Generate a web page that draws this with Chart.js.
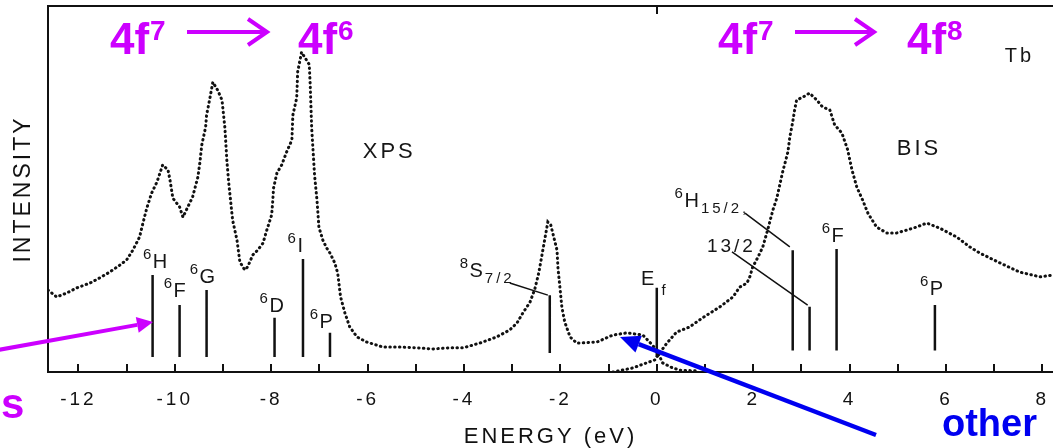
<!DOCTYPE html>
<html><head><meta charset="utf-8">
<script src="https://cdn.jsdelivr.net/npm/chart.js@4.4.1/dist/chart.umd.min.js"></script>
<style>html,body{margin:0;padding:0;background:#fff;overflow:hidden}#wrap{width:1053px;height:448px}</style>
</head><body><div id="wrap"><canvas id="c" width="1053" height="448"></canvas></div>
<script>
// ---------------- data ----------------
const xpsEnergy = [-12.63,-12.45,-12.24,-12.03,-11.76,-11.56,-11.35,-11.14,-11.00,-10.87,-10.73,-10.66,-10.58,-10.48,-10.37,-10.25,-10.14,-10.10,-10.04,-9.90,-9.83,-9.73,-9.63,-9.52,-9.48,-9.44,-9.36,-9.34,-9.27,-9.21,-9.11,-9.02,-8.96,-8.92,-8.88,-8.80,-8.71,-8.65,-8.55,-8.49,-8.38,-8.28,-8.17,-8.09,-7.99,-7.97,-7.95,-7.88,-7.78,-7.68,-7.57,-7.55,-7.47,-7.45,-7.37,-7.21,-7.19,-7.16,-7.10,-7.05,-7.01,-6.93,-6.85,-6.78,-6.68,-6.62,-6.56,-6.47,-6.37,-6.22,-6.02,-5.68,-5.33,-4.98,-4.65,-4.29,-4.02,-3.67,-3.32,-3.05,-2.90,-2.78,-2.63,-2.53,-2.45,-2.39,-2.30,-2.26,-2.20,-2.07,-2.05,-2.01,-1.97,-1.91,-1.80,-1.66,-1.60,-1.24,-0.91,-0.62,-0.29,-0.15,0.00,0.12,0.33,0.48,0.83];
const xpsIntensity = [22.4,20.5,21.6,23.0,24.3,25.7,27.3,29.2,30.6,33.3,36.9,40.7,44.8,48.9,51.9,56.6,55.2,52.5,47.5,45.1,42.3,45.1,47.8,53.3,57.1,62.0,66.9,70.2,74.9,79.2,77.0,74.3,66.7,57.9,51.6,41.5,36.1,30.1,27.9,28.7,32.0,33.3,35.2,38.8,42.9,46.2,50.3,54.4,56.6,60.1,63.4,70.2,74.9,82.0,87.4,84.0,78.4,66.7,53.8,47.0,39.6,36.1,33.9,32.5,29.8,27.0,20.5,16.1,12.3,9.6,8.2,6.8,6.8,6.6,6.3,6.6,6.6,7.9,9.6,11.5,13.4,16.1,19.1,22.7,27.0,31.4,38.0,41.0,40.2,33.3,28.4,23.2,17.8,13.7,9.6,7.9,7.9,8.2,10.1,10.7,10.1,8.2,6.0,2.5,1.1,0.5,0.3];

const bisEnergy = [-0.91,-0.50,-0.21,-0.04,0.06,0.21,0.41,0.68,0.95,1.31,1.58,1.72,1.87,1.93,1.99,2.10,2.20,2.30,2.41,2.49,2.61,2.72,2.76,2.82,2.86,2.90,3.03,3.17,3.32,3.44,3.59,3.69,3.84,3.96,4.05,4.15,4.27,4.38,4.56,4.77,4.98,5.19,5.39,5.60,5.87,6.22,6.49,6.70,7.12,7.53,7.95,8.22];
const bisIntensity = [0.0,1.1,2.5,3.3,5.2,7.9,10.9,12.3,14.8,17.8,20.5,23.2,24.3,26.0,28.7,31.4,34.2,38.8,44.3,47.5,54.6,60.1,64.2,68.3,71.6,74.3,75.1,76.2,74.3,72.4,71.6,67.5,65.3,60.7,55.2,50.5,47.0,43.4,39.6,38.0,38.0,38.8,39.6,40.7,39.3,36.9,34.2,32.5,29.8,27.3,26.0,26.5];

// multiplet / reference bars
const barEnergy = [-10.46,-9.90,-9.34,-7.93,-7.34,-6.78,-2.22,0.00,2.82,3.17,3.73,5.77];
const barBottom = [4.1,4.1,4.1,4.1,4.1,4.1,5.2,4.1,5.9,5.9,5.9,5.9];
const barTop    = [26.5,18.3,22.4,14.8,30.9,10.7,21.0,23.0,33.3,17.8,33.6,18.3];

// leader lines (label -> bar)
const leaderFromE = [-3.05,1.83,1.56];
const leaderFromV = [24.3,43.4,32.8];
const leaderToE   = [-2.26,2.76,3.13];
const leaderToV   = [21.0,34.2,18.3];

// term labels
const labelSup  = ['6','6','6','6','6','6','8','','','6','','6','6','','',''];
const labelMain = ['H','F','G','D','I','P','S','E','','H','13/2','F','P','XPS','BIS','Tb'];
const labelSub  = ['','','','','','','7/2','','f','15/2,','','','','','',''];
const labelE    = [-10.66,-10.23,-9.69,-8.24,-7.66,-7.20,-4.09,-0.33,0.10,0.37,1.04,3.42,5.46,-6.10,4.98,7.22];
const labelV    = [28.4,20.5,24.3,16.4,32.8,12.0,26.0,23.8,22.7,45.1,32.8,35.5,21.0,58.5,59.3,84.7];
const labelSize = [20,20,20,20,20,20,20,20,20,20,19,20,20,22,22,20];

const xMin = -12.63, xMax = 8.22, yMin = 0, yMax = 100;
const FONT = '"Liberation Sans", Arial, Helvetica, sans-serif';

// ---------------- build datasets ----------------
const xpsData = xpsEnergy.map((e,i)=>({x:e, y:xpsIntensity[i]}));
const bisData = bisEnergy.map((e,i)=>({x:e, y:bisIntensity[i]}));
const barData = [];
barEnergy.forEach((e,i)=>{ barData.push({x:e,y:barBottom[i]},{x:e,y:barTop[i]},{x:e,y:null}); });
const leaderData = [];
leaderFromE.forEach((e,i)=>{ leaderData.push({x:e,y:leaderFromV[i]},{x:leaderToE[i],y:leaderToV[i]},{x:leaderToE[i],y:null}); });

const dotted = {borderColor:'#111', borderWidth:3, borderDash:[0.5,4.3], borderCapStyle:'round', pointRadius:0, tension:0, fill:false};

const spacingPlugin = {
  id:'spacing',
  beforeDraw(chart){ chart.ctx.letterSpacing = '3px'; }
};

const labelPlugin = {
  id:'termLabels',
  afterDatasetsDraw(chart){
    const {ctx, scales:{x, y}} = chart;
    ctx.save();
    ctx.fillStyle = '#161616';
    ctx.textAlign = 'left';
    ctx.textBaseline = 'alphabetic';
    ctx.letterSpacing = '3px';
    for (let i=0;i<labelMain.length;i++){
      let px = x.getPixelForValue(labelE[i]);
      const py = y.getPixelForValue(labelV[i]);
      if (labelSup[i]) { ctx.font = '15px '+FONT; ctx.fillText(labelSup[i], px, py-9); px += ctx.measureText(labelSup[i]).width - 1.5; }
      if (labelMain[i]) { ctx.font = labelSize[i]+'px '+FONT; ctx.fillText(labelMain[i], px, py); px += ctx.measureText(labelMain[i]).width - 1; }
      if (labelSub[i]) { ctx.font = '15px '+FONT; ctx.fillText(labelSub[i], px, py+6); }
    }
    ctx.restore();
  }
};

const ticksPlugin = {
  id:'inwardTicks',
  afterDraw(chart){
    const {ctx, chartArea, scales:{x}} = chart;
    ctx.save();
    ctx.strokeStyle = '#111';
    ctx.lineWidth = 2;
    x.ticks.forEach(t=>{
      if (!Number.isInteger(t.value)) return;
      const px = Math.round(x.getPixelForValue(t.value));
      ctx.beginPath(); ctx.moveTo(px, chartArea.bottom); ctx.lineTo(px, chartArea.bottom-8); ctx.stroke();
    });
    const p0 = Math.round(x.getPixelForValue(0));
    ctx.beginPath(); ctx.moveTo(p0, chartArea.top); ctx.lineTo(p0, chartArea.top+8); ctx.stroke();
    ctx.restore();
  }
};

function formula(ctx, x, base, main, sup){
  ctx.font = 'bold 44px '+FONT;
  ctx.fillText(main, x, base);
  const w = ctx.measureText(main).width;
  ctx.font = 'bold 28px '+FONT;
  ctx.fillText(sup, x + w + 1, base - 14);
}
function openArrow(ctx, x1, x2, y){
  ctx.beginPath(); ctx.moveTo(x1, y); ctx.lineTo(x2-2, y); ctx.stroke();
  ctx.beginPath(); ctx.moveTo(x2-19, y-13); ctx.lineTo(x2, y); ctx.lineTo(x2-19, y+13); ctx.stroke();
}
function solidArrow(ctx, x1, y1, x2, y2, headLen, headHalf){
  const a = Math.atan2(y2-y1, x2-x1);
  const bx = x2 - headLen*Math.cos(a), by = y2 - headLen*Math.sin(a);
  ctx.beginPath(); ctx.moveTo(x1,y1); ctx.lineTo(bx,by); ctx.stroke();
  ctx.beginPath();
  ctx.moveTo(x2,y2);
  ctx.lineTo(bx + headHalf*Math.sin(a), by - headHalf*Math.cos(a));
  ctx.lineTo(bx - headHalf*Math.sin(a), by + headHalf*Math.cos(a));
  ctx.closePath(); ctx.fill();
}

const overlayPlugin = {
  id:'overlay',
  afterDraw(chart){
    const ctx = chart.ctx;
    ctx.save();
    ctx.letterSpacing = '0px';
    ctx.textAlign = 'left';
    ctx.textBaseline = 'alphabetic';
    const mag = '#cc00ff';
    ctx.fillStyle = mag; ctx.strokeStyle = mag; ctx.lineWidth = 4; ctx.lineCap = 'butt'; ctx.lineJoin = 'miter';
    formula(ctx, 110, 54, '4f', '7');
    openArrow(ctx, 187, 267, 32);
    formula(ctx, 298, 54, '4f', '6');
    formula(ctx, 718, 54, '4f', '7');
    openArrow(ctx, 795, 874, 32);
    formula(ctx, 907, 54, '4f', '8');
    ctx.font = 'bold 42px '+FONT;
    ctx.fillText('s', 1, 418);
    solidArrow(ctx, -2, 350, 153, 322, 16, 8);
    const blue = '#0000f0';
    ctx.fillStyle = blue; ctx.strokeStyle = blue; ctx.lineWidth = 4.5;
    solidArrow(ctx, 876, 435, 620, 337, 20, 9);
    ctx.font = 'bold 38px '+FONT;
    ctx.fillText('other', 942, 436);
    ctx.restore();
  }
};

Chart.defaults.font.family = FONT;
Chart.defaults.color = '#111';

new Chart(document.getElementById('c'), {
  type:'line',
  data:{ datasets:[
    Object.assign({label:'XPS', data:xpsData}, dotted),
    Object.assign({label:'BIS', data:bisData}, dotted),
    {label:'bars', data:barData, borderColor:'#111', borderWidth:2.5, pointRadius:0, spanGaps:false, tension:0},
    {label:'leaders', data:leaderData, borderColor:'#111', borderWidth:1.5, pointRadius:0, spanGaps:false, tension:0}
  ]},
  options:{
    responsive:false, animation:false, devicePixelRatio:1,
    layout:{padding:{left:12.5, top:6, right:0, bottom:0}},
    plugins:{legend:{display:false}, tooltip:{enabled:false}},
    scales:{
      x:{type:'linear', position:'bottom', min:xMin, max:xMax,
         grid:{display:false, drawTicks:false},
         border:{display:true, color:'#111', width:2},
         ticks:{stepSize:1, includeBounds:false, autoSkip:false, maxRotation:0, padding:0,
                font:{size:19, lineHeight:2.947}, color:'#111',
                callback:(v)=> (Number.isInteger(v) && v%2===0) ? String(v) : ''},
         title:{display:true, text:'ENERGY (eV)', font:{size:22, lineHeight:0.8}, padding:{top:0.2, bottom:2.2}, color:'#111'}},
      xTop:{type:'linear', position:'top', min:xMin, max:xMax,
         grid:{display:false, drawTicks:false}, ticks:{display:false},
         border:{display:true, color:'#111', width:2}},
      y:{type:'linear', position:'left', min:yMin, max:yMax,
         grid:{display:false, drawTicks:false}, ticks:{display:false},
         border:{display:true, color:'#111', width:2},
         title:{display:true, text:'INTENSITY', font:{size:23, lineHeight:1}, padding:{top:0, bottom:12.5}, color:'#111'}}
    }
  },
  plugins:[spacingPlugin, labelPlugin, ticksPlugin, overlayPlugin]
});
</script>
</body></html>
